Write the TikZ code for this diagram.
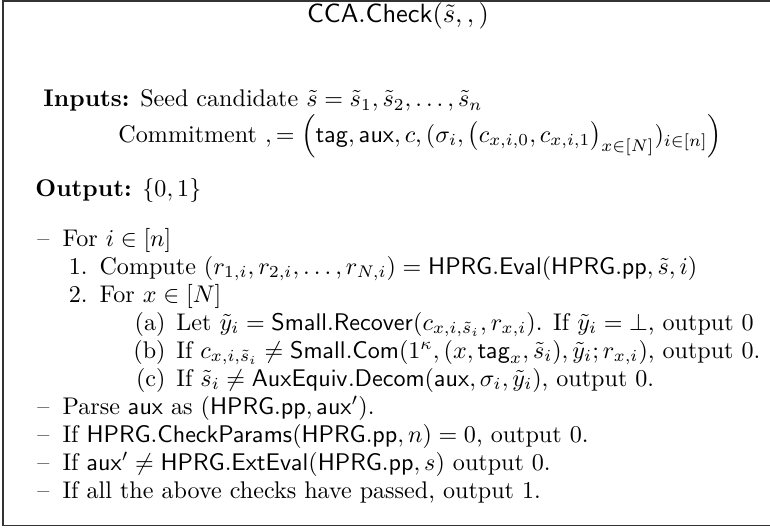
\documentclass[tikz,border=0pt]{standalone}
\usepackage{amsmath,amssymb}
\usepackage{tikz}

\newcommand{\dashlbl}{\makebox[10.4pt][l]{--}}
\newcommand{\numlbl}[1]{\makebox[5pt][r]{#1}\hspace{5pt}}
\newcommand{\sublbl}[1]{\makebox[13.3pt][r]{#1}\hspace{4.5pt}}

\begin{document}
\begin{tikzpicture}[x=0.415pt, y=0.415pt,
    rowtxt/.style={anchor=base west, inner sep=0pt},
    frame/.style={draw=black!80, line width=0.8pt}]
  \useasboundingbox (0,0) rectangle (770,528);
  % open frame, right side cut off
  \coordinate (tr) at (770,527);
  \coordinate (tl) at (3,527);
  \coordinate (bl) at (3,2.5);
  \coordinate (br) at (770,2.5);
  \draw [frame] (tr) -- (tl) -- (bl) -- (br);
  % heading
  \draw (398,505) node (title) [anchor=base, inner sep=0pt, font=\fontsize{11}{13}\selectfont] {$\mathsf{CCA.Check}(\tilde{s}, , )$};
  % inputs and output
  \draw (43,421) node (inputs) [rowtxt] {\textbf{Inputs:} Seed candidate $\tilde{s} = \tilde{s}_1, \tilde{s}_2, \ldots, \tilde{s}_n$};
  \draw (118,386) node (commit) [rowtxt] {Commitment $, = \Big(\mathsf{tag}, \mathsf{aux}, c, (\sigma_i, \big(c_{x,i,0}, c_{x,i,1}\big)_{x\in[N]})_{i\in[n]}\Big)$};
  \draw (35,332) node (output) [rowtxt] {\textbf{Output:} $\{0,1\}$};
  % the checks
  \draw (37,282) node (fori) [rowtxt] {\dashlbl For $i \in [n]$};
  \draw (75,254) node (stepone) [rowtxt] {\numlbl{1.}Compute $(r_{1,i}, r_{2,i}, \ldots, r_{N,i}) = \mathsf{HPRG.Eval}(\mathsf{HPRG.pp}, \tilde{s}, i)$};
  \draw (75,226) node (steptwo) [rowtxt] {\numlbl{2.}For $x \in [N]$};
  \draw (133,198) node (suba) [rowtxt] {\sublbl{(a)}Let $\tilde{y}_i = \mathsf{Small.Recover}(c_{x,i,\tilde{s}_i}, r_{x,i})$. If $\tilde{y}_i = \bot$, output 0};
  \draw (133,170) node (subb) [rowtxt] {\sublbl{(b)}If $c_{x,i,\tilde{s}_i} \neq \mathsf{Small.Com}(1^\kappa, (x, \mathsf{tag}_x, \tilde{s}_i), \tilde{y}_i; r_{x,i})$, output 0.};
  \draw (133,142) node (subc) [rowtxt] {\sublbl{(c)}If $\tilde{s}_i \neq \mathsf{AuxEquiv.Decom}(\mathsf{aux}, \sigma_i, \tilde{y}_i)$, output 0.};
  \draw (37,114) node (parse) [rowtxt] {\dashlbl Parse $\mathsf{aux}$ as $(\mathsf{HPRG.pp}, \mathsf{aux}')$.};
  \draw (37,86) node (params) [rowtxt] {\dashlbl If $\mathsf{HPRG.CheckParams}(\mathsf{HPRG.pp}, n) = 0$, output 0.};
  \draw (37,58) node (exteval) [rowtxt] {\dashlbl If $\mathsf{aux}' \neq \mathsf{HPRG.ExtEval}(\mathsf{HPRG.pp}, s)$ output 0.};
  \draw (37,30) node (passed) [rowtxt] {\dashlbl If all the above checks have passed, output 1.};
\end{tikzpicture}
\end{document}
